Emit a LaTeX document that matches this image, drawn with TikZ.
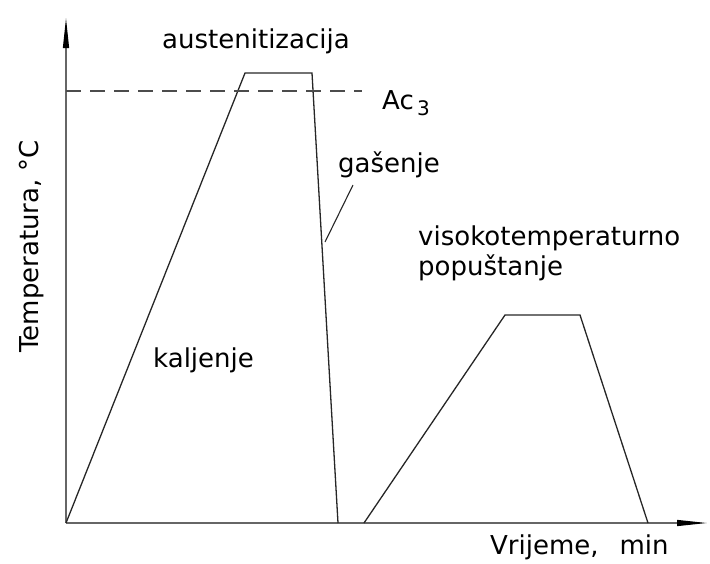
\documentclass[tikz,border=0pt]{standalone}
\usepackage{fontspec}
\setmainfont{DejaVu Sans}
\usetikzlibrary{arrows.meta}
\tikzset{
  oznaka/.style={inner sep=0pt, anchor=base west, font=\fontsize{26}{30}\selectfont},
  krivulja/.style={line width=1.3pt, black!85, line join=miter},
  os/.style={line width=1.2pt, black!60, -{Triangle[length=30pt,width=6pt,color=black]}},
}

\begin{document}
\begin{tikzpicture}[x=1pt,y=-1pt]
  \useasboundingbox (0,0) rectangle (710,563);

  % Osi
  \coordinate (O) at (66,523);
  \coordinate (ykraj) at (66,18);
  \coordinate (xkraj) at (707,523);
  \draw[os] (O) -- (ykraj);
  \draw[os] (O) -- (xkraj);

  % Kaljenje: zagrijavanje, austenitizacija, gasenje
  \coordinate (k1) at (245,73);
  \coordinate (k2) at (312,73);
  \coordinate (k3) at (338,523);
  \draw[krivulja] (O) -- (k1) -- (k2) -- (k3);

  % Linija Ac3
  \coordinate (ac0) at (66,91);
  \coordinate (ac1) at (362,91);
  \draw[black!70, line width=1.1pt, dash pattern=on 15pt off 9pt] (ac0) -- (ac1);
  \node[oznaka] (ac) at (382,109)
    {Ac\raisebox{-6pt}{\fontsize{20}{24}\selectfont\,3}};

  % Visokotemperaturno popustanje
  \coordinate (p0) at (364,523);
  \coordinate (p1) at (505,315);
  \coordinate (p2) at (580,315);
  \coordinate (p3) at (648,523);
  \draw[krivulja] (p0) -- (p1) -- (p2) -- (p3);

  % Natpisi
  \node[oznaka] (aust) at (162,48) {austenitizacija};
  \node[oznaka] (gas) at (338,172) {gašenje};
  \coordinate (g0) at (353,185);
  \coordinate (g1) at (325,242);
  \draw[black!85, line width=1.1pt] (g0) -- (g1);
  \node[oznaka] (visok) at (418,245) {visokotemperaturno};
  \node[oznaka] (popust) at (418,275) {popuštanje};
  \node[oznaka] (kalj) at (153,367) {kaljenje};
  \node[oznaka, rotate=90] (temp) at (38,353) {Temperatura, °C};
  \node[oznaka] (vrij) at (490,554) {Vrijeme,\hspace{0.8em}min};
\end{tikzpicture}
\end{document}
